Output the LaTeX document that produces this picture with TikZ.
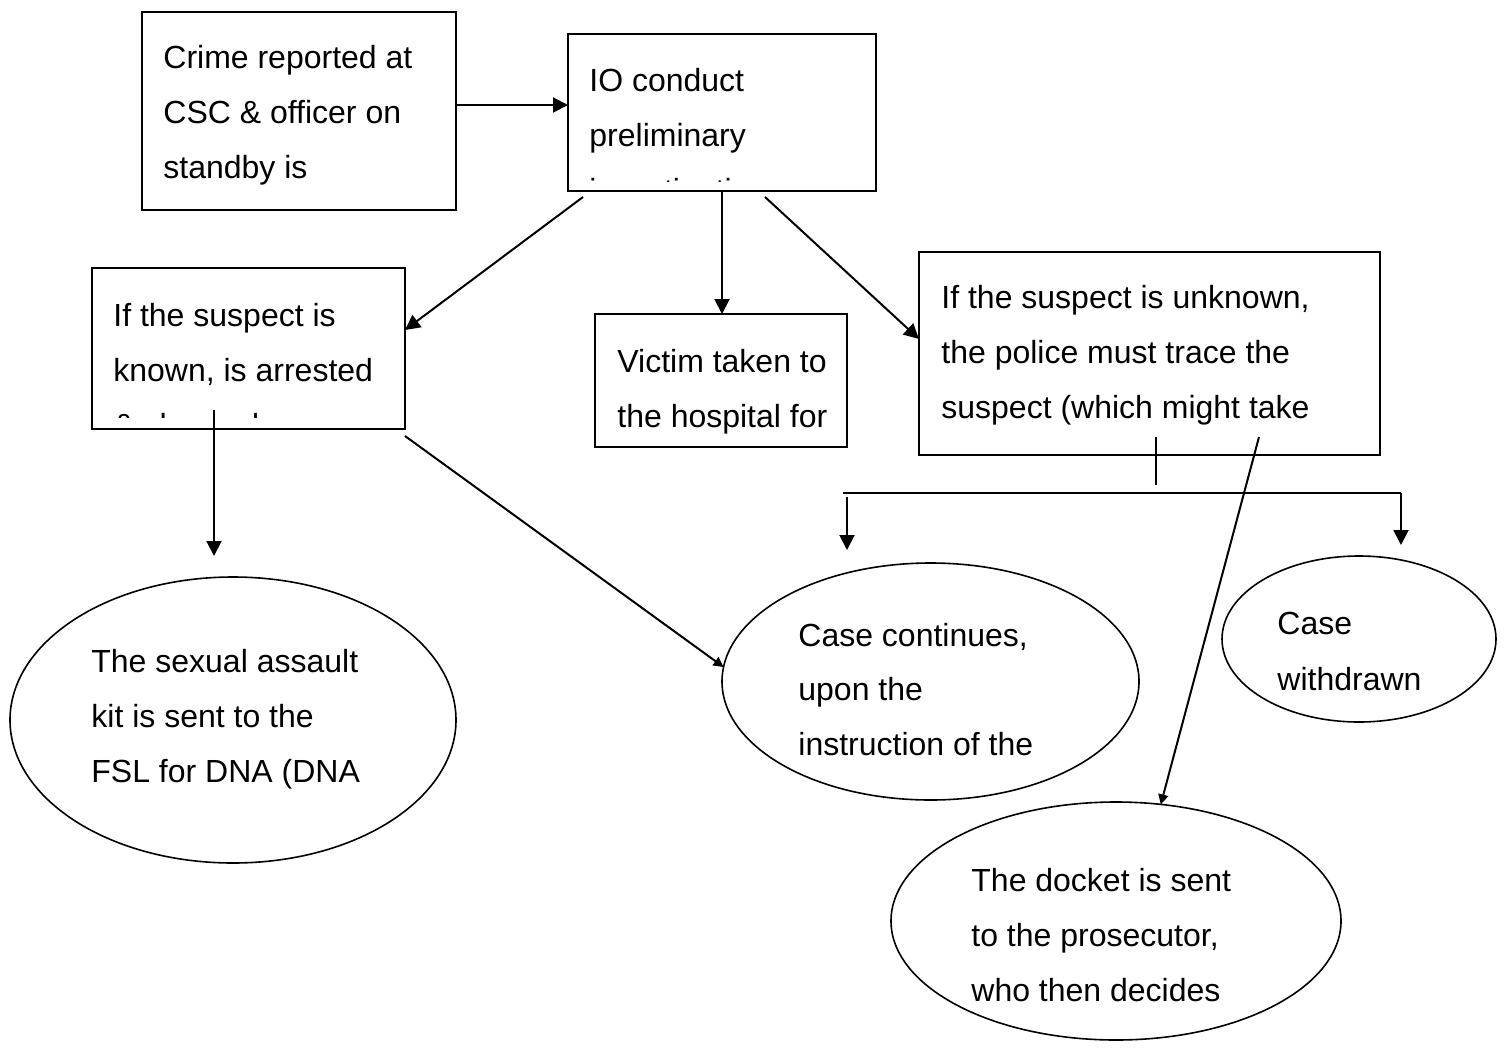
\documentclass[tikz,border=0pt]{standalone}
\usepackage{fontspec}
\setmainfont{Liberation Sans}
\usetikzlibrary{arrows.meta,shapes.geometric}
\begin{document}
\begin{tikzpicture}[x=0.5pt,y=-0.5pt,
  box/.style={draw,line width=1pt,rectangle,inner sep=0pt,outer sep=0pt},
  oval/.style={draw,line width=0.8pt,ellipse,inner sep=0pt,outer sep=0pt},
  txt/.style={inner sep=0pt,anchor=base west,font=\fontsize{16}{19}\selectfont},
  arr/.style={line width=1pt,-{Triangle[length=7.5pt,width=7.5pt]}},
  arrs/.style={line width=1pt,-{Triangle[length=5pt,width=5pt]}},
  conn/.style={line width=1pt}]
\useasboundingbox (0,0) rectangle (1504,1055);

% boxes
\node[box,minimum width=157pt,minimum height=99pt] (A) at (299,111) {};
\node[box,minimum width=154pt,minimum height=78.5pt] (IO) at (722,112.5) {};
\node[box,minimum width=156.5pt,minimum height=80.5pt] (Known) at (248.5,348.5) {};
\node[box,minimum width=126pt,minimum height=66.5pt] (Victim) at (721,380.5) {};
\node[box,minimum width=230.5pt,minimum height=101.5pt] (Unknown) at (1149.5,353.5) {};

% ellipses
\node[oval,minimum width=223pt,minimum height=143pt] (E1) at (233,720) {};
\node[oval,minimum width=208.5pt,minimum height=118.5pt] (E2) at (930.5,681.5) {};
\node[oval,minimum width=137pt,minimum height=83pt] (E3) at (1359,639) {};
\node[oval,minimum width=225pt,minimum height=119pt] (E4) at (1116,921) {};

% texts
\node[txt] (A1) at (163,68) {Crime reported at};
\node[txt] (A2) at (163,123) {CSC \& officer on};
\node[txt] (A3) at (163,178) {standby is};

\begin{scope}
\clip (568,34) rectangle (876,181);
\node[txt] (B1) at (589,91) {IO conduct};
\node[txt] (B2) at (589,146) {preliminary};
\node[txt] (B3) at (589,201) {investigation};
\end{scope}

\begin{scope}
\clip (92,268) rectangle (405,417);
\node[txt] (K1) at (113,326) {If the suspect is};
\node[txt] (K2) at (113,381) {known, is arrested};
\node[txt] (K3) at (113,436) {\& charged};
\end{scope}

\node[txt] (V1) at (617,372) {Victim taken to};
\node[txt] (V2) at (617,427) {the hospital for};

\node[txt] (U1) at (941,308) {If the suspect is unknown,};
\node[txt] (U2) at (941,363) {the police must trace the};
\node[txt] (U3) at (941,418) {suspect (which might take};

\node[txt] (F1) at (91,672) {The sexual assault};
\node[txt] (F2) at (91,727) {kit is sent to the};
\node[txt] (F3) at (91,782) {FSL for DNA (DNA};

\node[txt] (C1) at (798,646) {Case continues,};
\node[txt] (C2) at (798,700) {upon the};
\node[txt] (C3) at (798,755) {instruction of the};

\node[txt] (W1) at (1277,634) {Case};
\node[txt] (W2) at (1277,690) {withdrawn};

\node[txt] (D1) at (971,891) {The docket is sent};
\node[txt] (D2) at (971,946) {to the prosecutor,};
\node[txt] (D3) at (971,1001) {who then decides};

% connector coordinates
\coordinate (s2) at (583,197);
\coordinate (s4) at (765,197);
\coordinate (s5) at (214,410);
\coordinate (t5) at (214,556);
\coordinate (s6) at (405,436);
\coordinate (s7a) at (1156,437);
\coordinate (s7b) at (1156,485);
\coordinate (hl) at (843,493);
\coordinate (hr) at (1401,493);
\coordinate (vl) at (847,497);
\coordinate (tl) at (847,550);
\coordinate (tr) at (1401,545);
\coordinate (s8) at (1259,437);

% connectors
\draw[arr] (A.east |- 0,105) -- (IO.west |- 0,105);
\draw[arr] (s2) -- (Known.east |- 0,330);
\draw[arr] (IO.south) -- (IO.south |- Victim.north);
\draw[arr] (s4) -- (Unknown.west |- 0,339);
\draw[arr] (s5) -- (t5);
\draw[arrs] (s6) -- (E2.176);
\draw[conn] (s7a) -- (s7b);
\draw[conn] (hl) -- (hr);
\draw[arr] (hr) -- (tr);
\draw[arr] (vl) -- (tl);
\draw[arrs] (s8) -- (E4.69);
\end{tikzpicture}
\end{document}
